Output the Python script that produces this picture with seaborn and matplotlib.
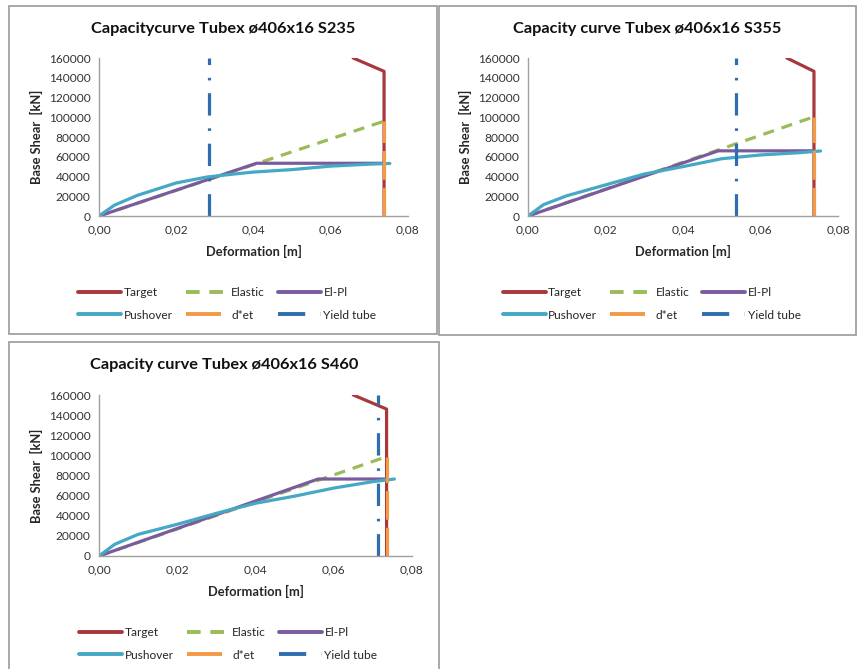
import pandas as pd
import matplotlib.pyplot as plt
import seaborn as sns
from matplotlib.patches import Rectangle

sns.set_style("white")
plt.rcParams["font.family"] = ["Lato", "DejaVu Sans"]

# === data (deformation in m, base shear in kN) ===
titles = ["Capacitycurve Tubex ø406x16 S235",
          "Capacity curve Tubex ø406x16 S355",
          "Capacity curve Tubex ø406x16 S460"]

# S235
target_x_235 = [0.0658, 0.0738, 0.0738]
target_y_235 = [160000, 146500, 0]
elastic_x_235 = [0.0, 0.0738]
elastic_y_235 = [0, 96000]
elpl_x_235 = [0.0, 0.0408, 0.0738]
elpl_y_235 = [0, 53400, 53400]
push_x_235 = [0.0, 0.004, 0.010, 0.020, 0.028, 0.035, 0.040, 0.050, 0.060, 0.070, 0.0753]
push_y_235 = [0, 11000, 21000, 33500, 39500, 42500, 44500, 47000, 50500, 52500, 53200]
det_235 = 0.0738
det_top_235 = 96000
yield_235 = 0.0285

# S355
target_x_355 = [0.0668, 0.0738, 0.0738]
target_y_355 = [160000, 146500, 0]
elastic_x_355 = [0.0, 0.0738]
elastic_y_355 = [0, 100500]
elpl_x_355 = [0.0, 0.0491, 0.0738]
elpl_y_355 = [0, 66000, 66000]
push_x_355 = [0.0, 0.004, 0.010, 0.020, 0.030, 0.040, 0.050, 0.060, 0.070, 0.0755]
push_y_355 = [0, 11500, 20500, 31500, 42500, 50000, 58000, 61800, 64100, 65800]
det_355 = 0.0738
det_top_355 = 100500
yield_355 = 0.0537

# S460
target_x_460 = [0.0650, 0.0735, 0.0735]
target_y_460 = [160000, 146000, 0]
elastic_x_460 = [0.0, 0.0735]
elastic_y_460 = [0, 98700]
elpl_x_460 = [0.0, 0.0560, 0.0735]
elpl_y_460 = [0, 76500, 76500]
push_x_460 = [0.0, 0.004, 0.010, 0.020, 0.030, 0.040, 0.050, 0.060, 0.070, 0.0755]
push_y_460 = [0, 11600, 21500, 31500, 42400, 52400, 59500, 67500, 73900, 76500]
det_460 = 0.0735
det_top_460 = 98700
yield_460 = 0.0712

series_names = ["Target", "Elastic", "El-Pl", "Pushover", "d*et", "Yield tube"]
colors = {"Target": "#A8383C", "Elastic": "#9BBB59", "El-Pl": "#7A5C9E",
          "Pushover": "#45A8C4", "d*et": "#F39A45", "Yield tube": "#2F6DAE"}
dashes = {"Target": "", "Elastic": (3.5, 2.5), "El-Pl": "", "Pushover": "",
          "d*et": (9, 2.5), "Yield tube": (7, 4, 0.8, 4)}


def build_frame(tx, ty, ex, ey, px_, py_, ux, uy, det, det_top, yld):
    rows = []
    parts = [("Target", tx, ty), ("Elastic", ex, ey), ("El-Pl", px_, py_),
             ("Pushover", ux, uy), ("d*et", [det, det], [0, det_top]),
             ("Yield tube", [yld, yld], [0, 160000])]
    for name, xs, ys in parts:
        for x, y in zip(xs, ys):
            rows.append({"x": x, "y": y, "series": name})
    return pd.DataFrame(rows)


frames = [
    build_frame(target_x_235, target_y_235, elastic_x_235, elastic_y_235,
                elpl_x_235, elpl_y_235, push_x_235, push_y_235, det_235, det_top_235, yield_235),
    build_frame(target_x_355, target_y_355, elastic_x_355, elastic_y_355,
                elpl_x_355, elpl_y_355, push_x_355, push_y_355, det_355, det_top_355, yield_355),
    build_frame(target_x_460, target_y_460, elastic_x_460, elastic_y_460,
                elpl_x_460, elpl_y_460, push_x_460, push_y_460, det_460, det_top_460, yield_460),
]

fig = plt.figure(figsize=(8.57, 6.69), dpi=100)

# panel boxes (pixels: x0, y0_top, x1, y1_bottom)
boxes = [(9, 6, 437, 334), (439, 6, 856, 335), (9, 342, 439, 672)]
axes_pos = [(99, 58, 408, 216), (528, 58, 838, 216), (99, 395, 412, 556)]
W, H = 857, 669

for box in boxes:
    x0, y0, x1, y1 = box
    fig.patches.append(Rectangle((x0 / W, 1 - y1 / H), (x1 - x0) / W, (y1 - y0) / H,
                                 transform=fig.transFigure, fill=False,
                                 edgecolor="#9a9a9a", linewidth=1.2))

for i, df in enumerate(frames):
    l, t, r, b = axes_pos[i]
    ax = fig.add_axes([l / W, 1 - b / H, (r - l) / W, (b - t) / H])
    sns.lineplot(data=df, x="x", y="y", hue="series", style="series",
                 hue_order=series_names, style_order=series_names,
                 palette=colors, dashes=dashes, sort=False, estimator=None,
                 linewidth=2.3, ax=ax)
    handles, labels = ax.get_legend_handles_labels()
    ax.get_legend().remove()

    ax.set_xlim(0, 0.08)
    ax.set_ylim(0, 160000)
    ax.set_xticks([0, 0.02, 0.04, 0.06, 0.08])
    ax.set_xticklabels(["0,00", "0,02", "0,04", "0,06", "0,08"])
    ax.set_yticks(range(0, 160001, 20000))
    ax.set_yticklabels([str(v) for v in range(0, 160001, 20000)])
    ax.tick_params(labelsize=8.6, length=0, pad=6, colors="#333333")
    for s in ["top", "right"]:
        ax.spines[s].set_visible(False)
    for s in ["left", "bottom"]:
        ax.spines[s].set_color("#a0a0a0")
        ax.spines[s].set_linewidth(1.0)
    ax.set_xlabel("Deformation [m]", fontsize=9.3, fontweight="bold", labelpad=7)
    ax.set_ylabel("Base Shear  [kN]", fontsize=9.3, fontweight="bold", labelpad=4)

    x0, y0, x1, y1 = boxes[i]
    cx = (x0 + x1) / 2 / W
    fig.text(cx, 1 - (y0 + 23) / H, titles[i], ha="center", va="center",
             fontsize=11.8, fontweight="bold", color="#111111")

    order = [0, 3, 1, 4, 2, 5]
    by_label = dict(zip(labels, handles))
    hs = [by_label[series_names[k]] for k in order]
    for h in hs:
        h.set_linewidth(2.8)
    fig.legend(hs, [series_names[k] for k in order], ncol=3, frameon=False,
               loc="center", bbox_to_anchor=(cx + 0.005, 1 - (b + 88) / H),
               fontsize=8.6, handlelength=3.6, handletextpad=0.2,
               columnspacing=1.1, labelspacing=0.95)

plt.savefig("out.png", dpi=100)
